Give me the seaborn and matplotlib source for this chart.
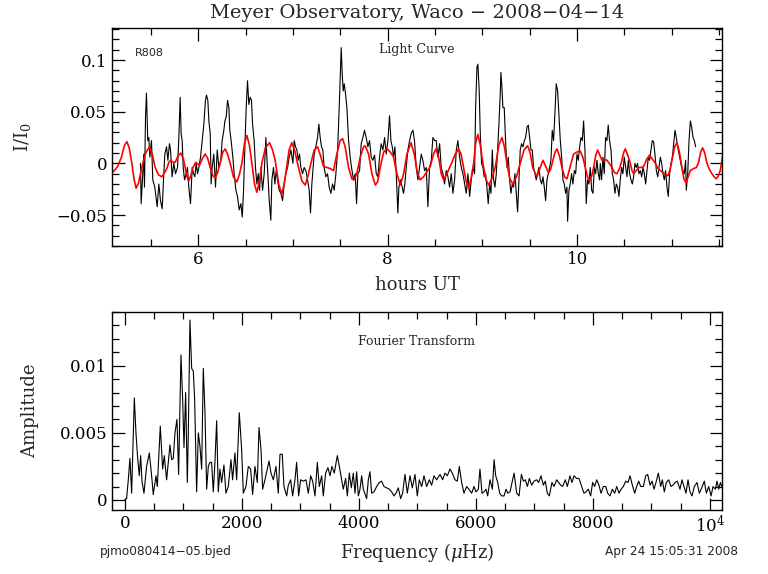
import numpy as np
import matplotlib
matplotlib.use("Agg")
import matplotlib.pyplot as plt
import seaborn as sns
from matplotlib.ticker import FixedLocator, FixedFormatter, MultipleLocator

# light curve: (hours UT, I/I0)
light_curve = [
    (5.391, 0.000), (5.398, -0.039), (5.426, 0.009), (5.433, -0.023), (5.444, 0.045), (5.454, 0.068),
    (5.468, 0.022), (5.479, 0.025), (5.490, 0.006), (5.507, 0.022), (5.521, -0.016), (5.542, -0.023),
    (5.567, -0.042), (5.585, -0.020), (5.602, -0.036), (5.620, -0.044), (5.637, -0.010), (5.648, 0.009),
    (5.666, 0.016), (5.680, 0.003), (5.697, 0.019), (5.708, 0.013), (5.725, -0.013), (5.743, 0.000),
    (5.761, -0.010), (5.782, -0.004), (5.796, 0.025), (5.810, 0.064), (5.820, 0.029), (5.831, 0.022),
    (5.842, -0.004), (5.856, -0.016), (5.873, -0.010), (5.887, -0.004), (5.901, -0.023), (5.919, -0.039),
    (5.937, -0.004), (5.951, -0.010), (5.965, -0.013), (5.979, 0.000), (5.993, -0.010), (6.007, -0.004),
    (6.025, 0.006), (6.042, 0.022), (6.060, 0.038), (6.077, 0.061), (6.088, 0.066), (6.102, 0.061),
    (6.113, 0.041), (6.127, 0.029), (6.137, -0.020), (6.148, -0.004), (6.165, 0.009), (6.183, -0.023),
    (6.201, 0.013), (6.218, -0.004), (6.239, 0.003), (6.253, 0.022), (6.271, 0.032), (6.282, 0.041),
    (6.296, 0.045), (6.310, 0.061), (6.324, 0.054), (6.334, 0.032), (6.348, 0.022), (6.366, 0.006),
    (6.380, -0.010), (6.398, -0.026), (6.415, -0.032), (6.433, -0.045), (6.451, -0.039), (6.465, -0.052),
    (6.479, -0.026), (6.493, 0.016), (6.507, 0.054), (6.521, 0.080), (6.535, 0.057), (6.549, 0.064),
    (6.563, 0.061), (6.574, 0.038), (6.591, 0.022), (6.605, -0.004), (6.620, -0.020), (6.634, -0.010),
    (6.648, -0.026), (6.662, -0.004), (6.680, -0.026), (6.697, -0.010), (6.715, 0.025), (6.725, 0.006),
    (6.739, -0.016), (6.750, -0.036), (6.767, -0.055), (6.778, -0.016), (6.795, -0.004), (6.810, -0.020),
    (6.824, -0.007), (6.838, -0.016), (6.855, -0.026), (6.873, -0.029), (6.891, -0.036), (6.908, -0.020),
    (6.926, -0.010), (6.944, -0.004), (6.961, 0.006), (6.979, 0.013), (7.000, 0.000), (7.014, 0.022),
    (7.028, 0.016), (7.042, 0.013), (7.056, 0.003), (7.070, 0.009), (7.084, -0.004), (7.102, -0.010),
    (7.119, -0.004), (7.137, -0.007), (7.155, -0.016), (7.172, -0.026), (7.186, -0.048), (7.200, -0.020),
    (7.214, -0.004), (7.225, 0.009), (7.242, 0.016), (7.260, 0.025), (7.274, 0.038), (7.288, 0.025),
    (7.302, 0.016), (7.316, 0.013), (7.330, -0.004), (7.348, -0.013), (7.366, -0.010), (7.383, -0.023),
    (7.401, -0.029), (7.419, -0.020), (7.436, -0.026), (7.454, -0.010), (7.472, 0.013), (7.489, 0.054),
    (7.500, 0.086), (7.510, 0.112), (7.521, 0.086), (7.531, 0.070), (7.542, 0.077), (7.556, 0.067),
    (7.570, 0.054), (7.588, 0.022), (7.605, 0.006), (7.619, -0.004), (7.640, -0.016), (7.658, -0.010),
    (7.672, -0.039), (7.686, -0.010), (7.704, -0.007), (7.721, 0.019), (7.739, 0.025), (7.756, 0.032),
    (7.774, 0.025), (7.792, 0.016), (7.809, 0.022), (7.827, 0.006), (7.844, 0.003), (7.862, 0.008),
    (7.880, -0.010), (7.897, -0.013), (7.915, 0.006), (7.932, 0.019), (7.950, 0.013), (7.968, 0.025),
    (7.985, 0.009), (8.003, 0.022), (8.020, 0.046), (8.035, 0.022), (8.049, 0.016), (8.063, 0.006),
    (8.077, 0.016), (8.091, -0.010), (8.108, -0.048), (8.119, -0.023), (8.136, -0.016), (8.154, -0.023),
    (8.168, -0.029), (8.182, -0.020), (8.196, -0.004), (8.214, 0.013), (8.232, 0.022), (8.249, 0.029),
    (8.267, 0.032), (8.284, 0.022), (8.302, -0.004), (8.320, -0.016), (8.337, -0.004), (8.355, 0.009),
    (8.372, 0.003), (8.390, -0.007), (8.408, -0.004), (8.425, -0.042), (8.443, -0.004), (8.461, 0.003),
    (8.478, 0.025), (8.496, 0.022), (8.513, 0.022), (8.531, 0.006), (8.549, 0.019), (8.566, -0.004),
    (8.584, -0.010), (8.601, -0.020), (8.619, -0.007), (8.637, -0.013), (8.654, -0.023), (8.672, -0.010),
    (8.689, -0.029), (8.707, -0.016), (8.725, 0.013), (8.742, 0.022), (8.760, 0.006), (8.778, -0.004),
    (8.795, -0.010), (8.813, -0.020), (8.830, -0.029), (8.848, -0.010), (8.866, -0.032), (8.883, -0.016),
    (8.901, -0.004), (8.918, -0.010), (8.929, 0.054), (8.943, 0.093), (8.953, 0.096), (8.967, 0.070),
    (8.978, 0.029), (8.992, 0.000), (9.006, -0.004), (9.020, -0.013), (9.034, -0.010), (9.048, -0.023),
    (9.062, -0.039), (9.077, -0.020), (9.091, -0.029), (9.105, 0.013), (9.119, -0.016), (9.133, -0.023),
    (9.147, -0.010), (9.161, 0.013), (9.175, 0.038), (9.189, 0.067), (9.196, 0.088), (9.207, 0.073),
    (9.217, 0.054), (9.231, 0.054), (9.245, 0.022), (9.260, -0.004), (9.274, 0.006), (9.288, -0.016),
    (9.302, -0.029), (9.316, -0.020), (9.330, -0.023), (9.344, -0.010), (9.358, -0.029), (9.372, -0.047),
    (9.386, -0.016), (9.400, 0.013), (9.414, 0.019), (9.429, 0.016), (9.443, 0.022), (9.457, 0.025),
    (9.471, 0.035), (9.485, 0.037), (9.499, 0.025), (9.513, 0.013), (9.527, 0.013), (9.541, -0.004),
    (9.555, -0.010), (9.569, -0.016), (9.583, -0.010), (9.597, -0.004), (9.612, -0.016), (9.626, -0.020),
    (9.640, -0.013), (9.654, -0.023), (9.668, -0.036), (9.682, -0.016), (9.696, -0.010), (9.710, -0.004),
    (9.724, 0.003), (9.738, 0.032), (9.752, 0.022), (9.766, 0.048), (9.780, 0.077), (9.795, 0.070),
    (9.809, 0.045), (9.823, 0.022), (9.837, 0.006), (9.851, -0.016), (9.865, -0.020), (9.879, -0.029),
    (9.893, -0.023), (9.900, -0.056), (9.914, -0.026), (9.928, -0.020), (9.942, -0.010), (9.956, -0.020),
    (9.971, -0.007), (9.985, -0.010), (9.999, 0.009), (10.013, 0.003), (10.027, 0.016), (10.041, 0.025),
    (10.055, 0.022), (10.069, 0.041), (10.083, 0.013), (10.097, -0.039), (10.111, -0.016), (10.125, -0.020),
    (10.139, -0.004), (10.154, -0.026), (10.168, -0.029), (10.182, -0.004), (10.196, -0.010), (10.210, 0.003),
    (10.224, -0.010), (10.238, -0.016), (10.245, 0.000), (10.259, -0.016), (10.273, 0.006), (10.287, -0.010),
    (10.301, 0.025), (10.315, 0.022), (10.329, 0.037), (10.343, 0.022), (10.358, 0.013), (10.372, -0.010),
    (10.386, -0.016), (10.400, -0.029), (10.414, -0.020), (10.428, -0.023), (10.442, -0.032), (10.456, -0.016),
    (10.470, -0.004), (10.484, -0.010), (10.498, 0.006), (10.513, -0.004), (10.527, -0.013), (10.541, 0.003),
    (10.555, -0.010), (10.569, -0.016), (10.583, -0.020), (10.597, -0.013), (10.611, 0.000), (10.625, -0.004),
    (10.639, 0.000), (10.653, -0.010), (10.668, -0.007), (10.682, -0.013), (10.696, -0.004), (10.710, -0.010),
    (10.724, -0.020), (10.738, -0.007), (10.752, 0.006), (10.766, 0.003), (10.780, 0.013), (10.794, 0.022),
    (10.808, 0.021), (10.822, 0.009), (10.837, -0.007), (10.851, -0.013), (10.865, -0.004), (10.879, 0.006),
    (10.893, 0.000), (10.907, -0.010), (10.921, -0.016), (10.935, -0.007), (10.949, -0.023), (10.963, -0.032),
    (10.977, -0.010), (10.992, 0.000), (11.006, 0.006), (11.020, 0.019), (11.034, 0.032), (11.048, 0.025),
    (11.062, 0.016), (11.076, 0.009), (11.090, 0.003), (11.104, -0.004), (11.118, -0.007), (11.132, -0.010),
    (11.146, 0.003), (11.153, -0.026), (11.168, -0.010), (11.182, 0.022), (11.196, 0.041), (11.210, 0.035),
    (11.224, 0.025), (11.238, 0.022), (11.252, 0.016),
]

# multi-sine fit drawn in red
fit_curve = [
    (5.106, -0.008), (5.150, -0.003), (5.190, 0.006), (5.220, 0.017), (5.247, 0.021), (5.272, 0.015),
    (5.300, 0.000), (5.322, -0.015), (5.345, -0.024), (5.370, -0.019), (5.405, -0.004), (5.445, 0.010),
    (5.486, 0.016), (5.515, 0.009), (5.546, -0.004), (5.580, -0.011), (5.616, -0.013), (5.645, -0.009),
    (5.669, -0.005), (5.690, 0.001), (5.711, 0.003), (5.735, 0.001), (5.757, 0.001), (5.787, 0.007),
    (5.817, 0.010), (5.842, 0.005), (5.863, -0.004), (5.882, -0.013), (5.901, -0.017), (5.922, -0.012),
    (5.944, -0.004), (5.975, 0.001), (6.014, -0.002), (6.045, 0.005), (6.074, 0.009), (6.100, 0.005),
    (6.127, -0.004), (6.155, -0.012), (6.180, -0.014), (6.205, -0.009), (6.232, 0.000), (6.260, 0.011),
    (6.285, 0.014), (6.310, 0.009), (6.338, 0.000), (6.372, -0.013), (6.408, -0.018), (6.435, -0.011),
    (6.461, 0.000), (6.490, 0.020), (6.514, 0.027), (6.540, 0.018), (6.567, 0.000), (6.595, -0.020),
    (6.619, -0.028), (6.645, -0.018), (6.672, 0.000), (6.710, 0.015), (6.753, 0.020), (6.785, 0.013),
    (6.813, 0.003), (6.850, -0.020), (6.883, -0.030), (6.908, -0.020), (6.929, -0.007), (6.960, 0.013),
    (6.989, 0.020), (7.020, 0.012), (7.059, -0.004), (7.095, -0.017), (7.130, -0.021), (7.160, -0.012),
    (7.190, 0.000), (7.225, 0.013), (7.260, 0.016), (7.290, 0.008), (7.323, -0.003), (7.360, -0.004),
    (7.394, -0.005), (7.429, -0.007), (7.464, 0.009), (7.499, 0.022), (7.524, 0.024), (7.552, 0.016),
    (7.587, -0.004), (7.623, -0.015), (7.647, -0.016), (7.675, -0.010), (7.711, 0.006), (7.746, 0.016),
    (7.764, 0.017), (7.799, 0.009), (7.834, -0.010), (7.870, -0.021), (7.894, -0.018), (7.922, -0.004),
    (7.958, 0.011), (7.993, 0.014), (8.028, 0.011), (8.063, 0.006), (8.098, -0.010), (8.134, -0.021),
    (8.169, -0.010), (8.204, 0.009), (8.246, 0.020), (8.281, 0.009), (8.316, -0.010), (8.344, -0.016),
    (8.380, -0.013), (8.415, -0.008), (8.450, -0.003), (8.485, 0.009), (8.510, 0.014), (8.538, 0.006),
    (8.566, -0.010), (8.591, -0.016), (8.626, -0.010), (8.679, 0.001), (8.714, 0.009), (8.749, 0.014),
    (8.775, 0.009), (8.802, -0.004), (8.830, -0.018), (8.855, -0.024), (8.880, -0.015), (8.908, 0.000),
    (8.930, 0.020), (8.953, 0.028), (8.978, 0.018), (9.006, 0.000), (9.036, -0.015), (9.066, -0.021),
    (9.100, -0.015), (9.136, -0.004), (9.175, 0.018), (9.207, 0.025), (9.233, 0.016), (9.259, 0.000),
    (9.290, -0.015), (9.323, -0.020), (9.360, -0.013), (9.400, 0.000), (9.440, 0.013), (9.478, 0.017),
    (9.505, 0.010), (9.531, -0.004), (9.576, -0.013), (9.611, -0.004), (9.640, 0.003), (9.665, -0.002),
    (9.699, -0.009), (9.720, -0.006), (9.745, 0.003), (9.768, 0.011), (9.788, 0.014), (9.815, 0.007),
    (9.840, -0.004), (9.868, -0.013), (9.893, -0.015), (9.928, -0.003), (9.963, 0.009), (10.000, 0.011),
    (10.034, 0.012), (10.060, 0.006), (10.087, -0.004), (10.110, -0.013), (10.133, -0.017), (10.155, -0.012),
    (10.175, -0.004), (10.197, 0.008), (10.217, 0.013), (10.240, 0.008), (10.263, 0.003), (10.290, 0.004),
    (10.315, 0.003), (10.340, 0.000), (10.368, -0.004), (10.395, -0.009), (10.421, -0.010), (10.448, -0.005),
    (10.474, 0.003), (10.490, 0.010), (10.509, 0.014), (10.535, 0.008), (10.562, 0.000), (10.580, -0.007),
    (10.597, -0.010), (10.625, -0.007), (10.650, -0.004), (10.680, -0.004), (10.703, -0.003), (10.735, 0.004),
    (10.766, 0.008), (10.796, 0.004), (10.826, 0.000), (10.855, -0.005), (10.879, -0.007), (10.920, -0.010),
    (10.960, -0.012), (10.982, -0.006), (11.002, 0.003), (11.030, 0.016), (11.055, 0.020), (11.080, 0.011),
    (11.107, -0.004), (11.128, -0.015), (11.150, -0.019), (11.172, -0.013), (11.195, -0.007), (11.231, -0.005),
    (11.260, -0.004), (11.283, 0.001), (11.305, 0.011), (11.326, 0.015), (11.348, 0.010), (11.371, 0.000),
    (11.398, -0.006), (11.424, -0.010), (11.447, -0.013), (11.470, -0.015), (11.492, -0.012), (11.512, -0.007),
    (11.540, 0.009),
]

# amplitude spectrum: (frequency in microHz, amplitude)
fourier = [
    (0, 0.0), (28, 0.0001), (57, 0.0015), (85, 0.0031), (114, 0.0005), (160, 0.0076), (188, 0.0050),
    (217, 0.0031), (245, 0.0018), (268, 0.0033), (291, 0.0014), (325, 0.0005), (370, 0.0025), (416, 0.0035),
    (456, 0.0018), (484, 0.0004), (530, 0.0018), (553, 0.0010), (604, 0.0055), (644, 0.0023), (672, 0.0033),
    (712, 0.0015), (769, 0.0041), (798, 0.0030), (826, 0.0031), (855, 0.0050), (889, 0.0060), (917, 0.0019),
    (957, 0.0108), (986, 0.0075), (1009, 0.0039), (1037, 0.0080), (1066, 0.0013), (1083, 0.0050),
    (1111, 0.0134), (1140, 0.0098), (1168, 0.0096), (1191, 0.0075), (1225, 0.0006), (1254, 0.0050),
    (1282, 0.0040), (1311, 0.0023), (1339, 0.0098), (1368, 0.0065), (1396, 0.0008), (1425, 0.0025),
    (1453, 0.0028), (1481, 0.0028), (1510, 0.0006), (1538, 0.0028), (1567, 0.0059), (1595, 0.0006),
    (1624, 0.0023), (1652, 0.0013), (1692, 0.0026), (1726, 0.0005), (1766, 0.0010), (1812, 0.0030),
    (1840, 0.0015), (1880, 0.0035), (1909, 0.0015), (1954, 0.0065), (1994, 0.0038), (2023, 0.0005),
    (2068, 0.0010), (2108, 0.0025), (2148, 0.0023), (2182, 0.0004), (2222, 0.0025), (2262, 0.0013),
    (2291, 0.0054), (2325, 0.0038), (2353, 0.0008), (2393, 0.0015), (2462, 0.0029), (2496, 0.0020),
    (2536, 0.0015), (2581, 0.0025), (2621, 0.0005), (2650, 0.0034), (2689, 0.0034), (2718, 0.0010),
    (2764, 0.0003), (2792, 0.0011), (2832, 0.0015), (2866, 0.0003), (2906, 0.0015), (2934, 0.0028),
    (2969, 0.0003), (3003, 0.0015), (3048, 0.0014), (3094, 0.0015), (3134, 0.0005), (3174, 0.0018),
    (3208, 0.0014), (3248, 0.0003), (3288, 0.0028), (3322, 0.0010), (3362, 0.0018), (3390, 0.0003),
    (3430, 0.0020), (3470, 0.0024), (3504, 0.0018), (3538, 0.0025), (3578, 0.0020), (3630, 0.0033),
    (3664, 0.0025), (3704, 0.0015), (3732, 0.0008), (3772, 0.0016), (3801, 0.0003), (3835, 0.0020),
    (3869, 0.0009), (3903, 0.0020), (3932, 0.0005), (3960, 0.0021), (3989, 0.0003), (4017, 0.0008),
    (4046, 0.0018), (4074, 0.0008), (4131, 0.0001), (4160, 0.0015), (4188, 0.0021), (4217, 0.0005),
    (4256, 0.0006), (4302, 0.0010), (4348, 0.0013), (4387, 0.0014), (4427, 0.0010), (4473, 0.0009),
    (4519, 0.0008), (4558, 0.0006), (4598, 0.0003), (4632, 0.0005), (4672, 0.0009), (4712, 0.0001),
    (4746, 0.0005), (4786, 0.0019), (4826, 0.0005), (4872, 0.0018), (4912, 0.0009), (4957, 0.0019),
    (4997, 0.0003), (5031, 0.0015), (5071, 0.0010), (5111, 0.0018), (5157, 0.0010), (5202, 0.0015),
    (5242, 0.0011), (5282, 0.0018), (5328, 0.0015), (5385, 0.0019), (5430, 0.0015), (5470, 0.0020),
    (5510, 0.0018), (5556, 0.0023), (5595, 0.0020), (5641, 0.0015), (5681, 0.0014), (5715, 0.0025),
    (5755, 0.0013), (5795, 0.0005), (5840, 0.0010), (5880, 0.0008), (5926, 0.0005), (5966, 0.0010),
    (6000, 0.0006), (6040, 0.0008), (6068, 0.0023), (6103, 0.0005), (6137, 0.0006), (6171, 0.0008),
    (6200, 0.0003), (6240, 0.0015), (6280, 0.0008), (6309, 0.0030), (6337, 0.0018), (6371, 0.0013),
    (6405, 0.0005), (6439, 0.0003), (6479, 0.0003), (6514, 0.0008), (6542, 0.0005), (6582, 0.0006),
    (6622, 0.0014), (6651, 0.0020), (6696, 0.0005), (6736, 0.0003), (6776, 0.0019), (6810, 0.0014),
    (6843, 0.0015), (6878, 0.0010), (6912, 0.0016), (6952, 0.0011), (6992, 0.0014), (7037, 0.0015),
    (7071, 0.0013), (7111, 0.0018), (7151, 0.0011), (7185, 0.0014), (7219, 0.0005), (7253, 0.0003),
    (7299, 0.0013), (7333, 0.0010), (7379, 0.0015), (7413, 0.0013), (7447, 0.0011), (7481, 0.0010),
    (7527, 0.0015), (7561, 0.0010), (7607, 0.0018), (7641, 0.0013), (7675, 0.0018), (7721, 0.0016),
    (7760, 0.0016), (7806, 0.0010), (7846, 0.0005), (7880, 0.0006), (7920, 0.0008), (7960, 0.0003),
    (7994, 0.0013), (8028, 0.0010), (8063, 0.0015), (8102, 0.0011), (8137, 0.0005), (8177, 0.0010),
    (8217, 0.0010), (8251, 0.0005), (8291, 0.0003), (8331, 0.0008), (8371, 0.0005), (8405, 0.0010),
    (8445, 0.0005), (8479, 0.0008), (8519, 0.0010), (8559, 0.0014), (8599, 0.0013), (8633, 0.0018),
    (8673, 0.0011), (8713, 0.0005), (8747, 0.0010), (8781, 0.0014), (8816, 0.0010), (8861, 0.0010),
    (8901, 0.0018), (8935, 0.0019), (8975, 0.0011), (9009, 0.0014), (9043, 0.0008), (9077, 0.0013),
    (9117, 0.0020), (9157, 0.0010), (9185, 0.0015), (9219, 0.0006), (9253, 0.0013), (9293, 0.0015),
    (9333, 0.0010), (9367, 0.0011), (9402, 0.0013), (9441, 0.0014), (9487, 0.0008), (9521, 0.0015),
    (9555, 0.0010), (9590, 0.0005), (9624, 0.0015), (9658, 0.0006), (9693, 0.0003), (9732, 0.0010),
    (9778, 0.0013), (9818, 0.0005), (9858, 0.0009), (9903, 0.0014), (9938, 0.0005), (9978, 0.0010),
    (10018, 0.0003), (10052, 0.0010), (10092, 0.0008), (10120, 0.0014), (10149, 0.0008), (10178, 0.0013),
    (10200, 0.0010),
]

lc_ticks = [-0.05, 0, 0.05, 0.1]
lc_ticklabels = ["\u22120.05", "0", "0.05", "0.1"]
hour_ticks = [6, 8, 10]
freq_ticks = [0, 2000, 4000, 6000, 8000, 10000]
freq_ticklabels = ["0", "2000", "4000", "6000", "8000", "10$^4$"]
amp_ticks = [0, 0.005, 0.01]
amp_ticklabels = ["0", "0.005", "0.01"]

lc_t, lc_f = np.array(light_curve).T
fit_t, fit_f = np.array(fit_curve).T
ft_nu, ft_amp = np.array(fourier).T

sns.set_theme(style="ticks")
plt.rcParams["font.family"] = ["DejaVu Serif"]
plt.rcParams["mathtext.fontset"] = "dejavuserif"
plt.rcParams.update({
    "xtick.direction": "in", "ytick.direction": "in",
    "xtick.top": True, "ytick.right": True,
    "xtick.major.size": 9, "ytick.major.size": 9,
    "xtick.minor.size": 5, "ytick.minor.size": 5,
    "xtick.major.width": 0.9, "ytick.major.width": 0.9,
    "xtick.minor.width": 0.9, "ytick.minor.width": 0.9,
    "axes.linewidth": 1.0, "axes.edgecolor": "black",
    "xtick.color": "black", "ytick.color": "black",
    "xtick.labelsize": 12, "ytick.labelsize": 12,
})

fig = plt.figure(figsize=(7.68, 5.74), dpi=100)
ax1 = fig.add_axes([0.1458, 0.5714, 0.7943, 0.3798])
ax2 = fig.add_axes([0.1458, 0.1115, 0.7943, 0.3449])

sns.lineplot(x=lc_t, y=lc_f, ax=ax1, color="black", lw=0.8, sort=False, estimator=None)
sns.lineplot(x=fit_t, y=fit_f, ax=ax1, color="red", lw=1.2, sort=False, estimator=None)
ax1.set_xlim(5.09, 11.53)
ax1.set_ylim(-0.08, 0.131)
ax1.xaxis.set_major_locator(FixedLocator(hour_ticks))
ax1.xaxis.set_minor_locator(MultipleLocator(0.5))
ax1.yaxis.set_major_locator(FixedLocator(lc_ticks))
ax1.yaxis.set_major_formatter(FixedFormatter(lc_ticklabels))
ax1.yaxis.set_minor_locator(MultipleLocator(0.01))
ax1.set_xlabel("hours UT", fontsize=13)
ax1.set_ylabel("I/I$_0$", fontsize=13)
ax1.xaxis.set_label_coords(0.5, -0.138)
ax1.yaxis.set_label_coords(-0.13, 0.5)
ax1.text(5.49, 0.107, "R808", fontsize=8, family="DejaVu Sans", ha="center", va="center")
ax1.text(0.5, 0.9, "Light Curve", transform=ax1.transAxes, fontsize=9, ha="center", va="center")

sns.lineplot(x=ft_nu, y=ft_amp, ax=ax2, color="black", lw=0.8, sort=False, estimator=None)
ax2.set_xlim(-222, 10205)
ax2.set_ylim(-0.00075, 0.014)
ax2.xaxis.set_major_locator(FixedLocator(freq_ticks))
ax2.xaxis.set_major_formatter(FixedFormatter(freq_ticklabels))
ax2.xaxis.set_minor_locator(MultipleLocator(500))
ax2.yaxis.set_major_locator(FixedLocator(amp_ticks))
ax2.yaxis.set_major_formatter(FixedFormatter(amp_ticklabels))
ax2.yaxis.set_minor_locator(MultipleLocator(0.001))
ax2.set_xlabel("Frequency ($\\mu$Hz)", fontsize=13)
ax2.set_ylabel("Amplitude", fontsize=13)
ax2.xaxis.set_label_coords(0.5, -0.157)
ax2.yaxis.set_label_coords(-0.12, 0.5)
ax2.text(0.5, 0.85, "Fourier Transform", transform=ax2.transAxes, fontsize=9, ha="center", va="center")

fig.text(0.543, 0.977, "Meyer Observatory, Waco \u2212 2008\u221204\u221214", fontsize=14, ha="center", va="center")
fig.text(0.130, 0.040, "pjmo080414\u221205.bjed", fontsize=8.7, family="DejaVu Sans", ha="left", va="center")
fig.text(0.961, 0.040, "Apr 24 15:05:31 2008", fontsize=8.7, family="DejaVu Sans", ha="right", va="center")

fig.savefig("out.png", dpi=100)
